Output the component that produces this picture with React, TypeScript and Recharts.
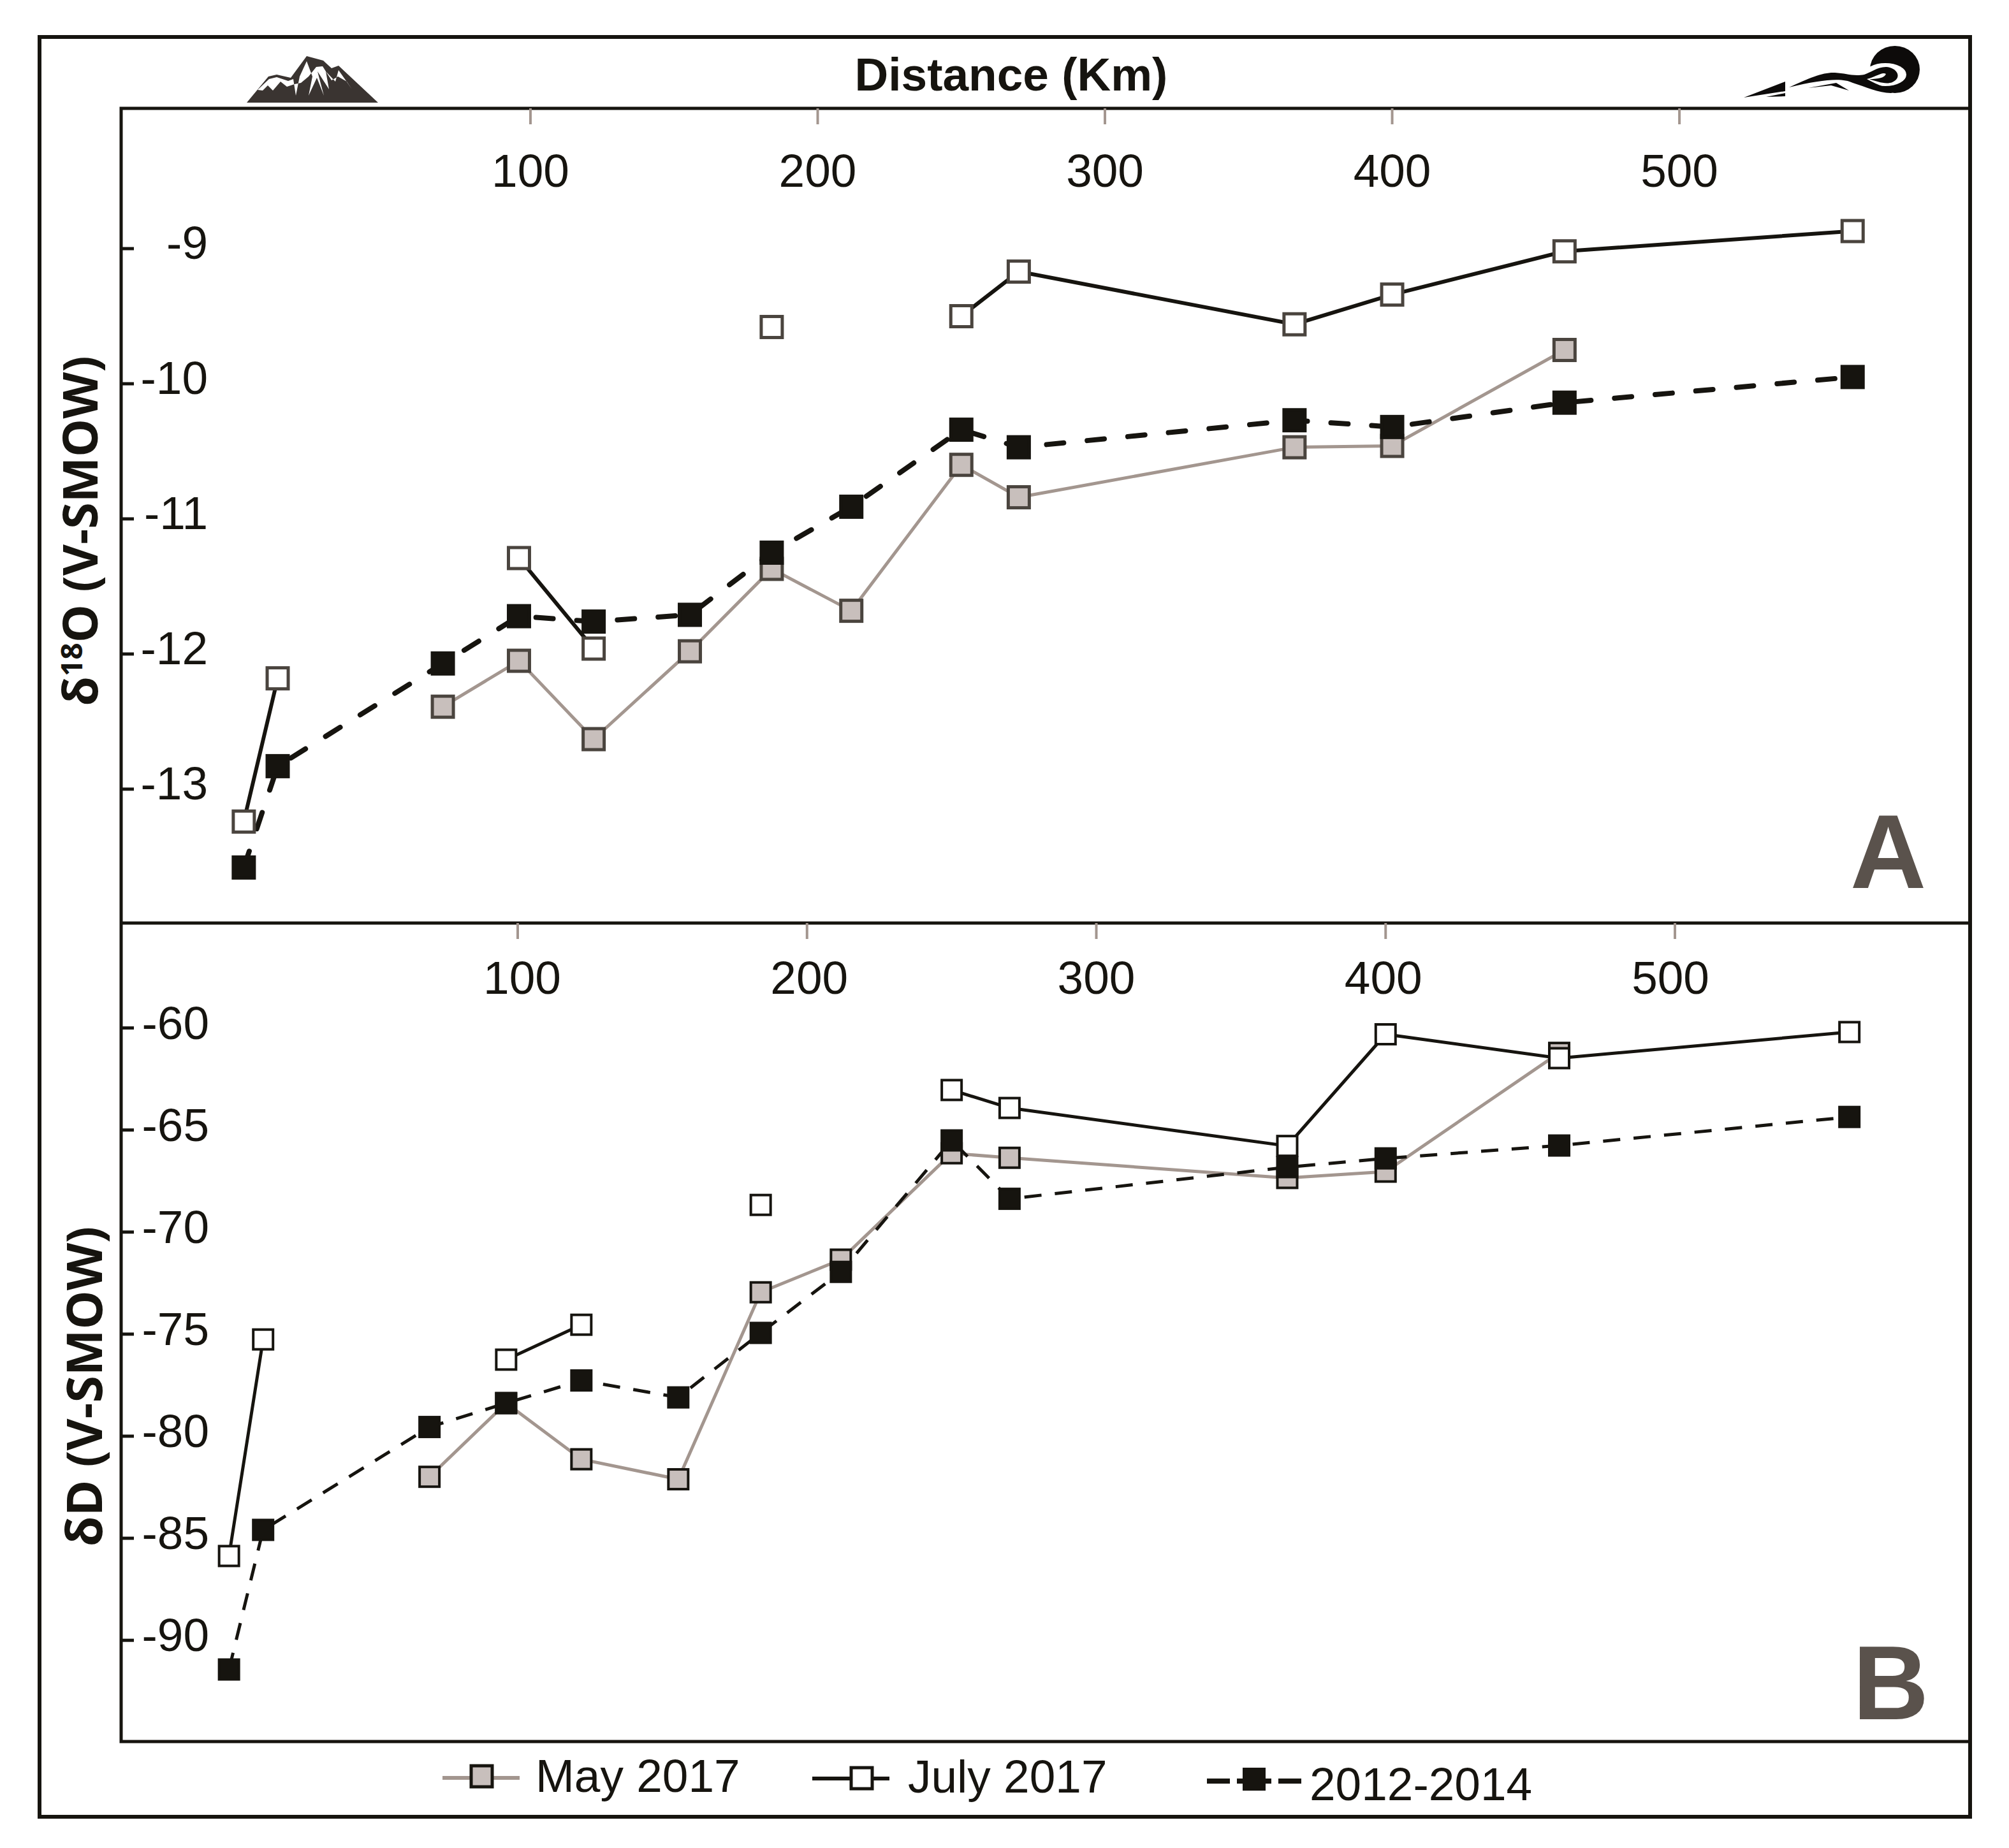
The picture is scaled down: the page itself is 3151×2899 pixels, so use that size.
import React from "react";
import { ComposedChart, Line, XAxis, YAxis } from "recharts";

const distanceKm = [0.2, 12, 69.5, 96, 122, 155.5, 184, 211.7, 250, 270, 366, 400, 460, 560.3];

const mayA = [null, null, -12.39, -12.05, -12.63, -11.98, -11.37, -11.68, -10.6, -10.84, -10.47, -10.46, -9.75, null];
const julyA = [-13.24, -12.18, null, -11.29, -11.96, null, -9.58, null, -9.5, -9.17, -9.56, -9.34, -9.02, -8.87];
const histA = [-13.58, -12.83, -12.07, -11.72, -11.76, -11.71, -11.25, -10.91, -10.34, -10.47, -10.27, -10.32, -10.14, -9.95];

const mayB = [null, null, -81.99, -78.38, -81.13, -82.11, -72.95, -71.35, -66.14, -66.36, -67.35, -67.04, -61.22, null];
const julyB = [-85.87, -75.26, null, -76.25, -74.54, null, -68.67, null, -63.04, -63.92, -65.78, -60.31, -61.48, -60.2];
const histB = [-91.43, -84.59, -79.55, -78.38, -77.27, -78.1, -74.94, -71.95, -65.51, -68.37, -66.82, -66.39, -65.76, -64.36];

const xTicks = [100, 200, 300, 400, 500];
const yTicksA = [-13, -12, -11, -10, -9];
const yTicksB = [-90, -85, -80, -75, -70, -65, -60];

const legendLabels = ["May 2017", "July 2017", "2012-2014"];

const INK = "#16140f";
const GREY = "#a3968f";
const MAY_FILL = "#c8bfbc";
const SANS = "'Liberation Sans', Arial, sans-serif";

const rows = (may: any[], july: any[], hist: any[]) =>
  distanceKm.map((km, i) => ({ km, may: may[i], july: july[i], hist: hist[i] }));

const square = (fill: string, size: number, stroke: string, sw: number) => (p: any) => {
  if (p.cy == null || p.value == null) return <g key={p.index} />;
  const s = size - sw;
  return <rect key={p.index} x={p.cx - s / 2} y={p.cy - s / 2} width={s} height={s} fill={fill} stroke={stroke} strokeWidth={sw} />;
};

type PanelProps = {
  top: number; height: number; data: any[]; xDomain: number[]; yDomain: number[]; yTicks: number[];
  labelY: number; yLabelX: number; yBaseline: number; xShift: number; size: number; mStroke: string; mw: number;
  dash: string; hw: number; cap: "round" | "butt"; jw: number;
};

function Panel(p: PanelProps) {
  return (
    <div style={{ position: "absolute", left: 190, top: p.top, width: 2900, height: p.height }}>
      <ComposedChart width={2900} height={p.height} data={p.data} margin={{ top: 0, right: 0, bottom: 0, left: 0 }}>
        <XAxis
          dataKey="km" type="number" orientation="top" mirror domain={p.xDomain} ticks={xTicks} interval={0}
          axisLine={false} tickSize={25} tickLine={{ stroke: GREY, strokeWidth: 4 }}
          tick={(t: any) => (
            <text x={t.x + (300 - t.payload.value) * p.xShift} y={p.labelY} textAnchor="middle" fontFamily={SANS} fontSize={73} fill={INK}>
              {t.payload.value}
            </text>
          )}
        />
        <YAxis
          type="number" orientation="left" mirror domain={p.yDomain} ticks={p.yTicks} interval={0}
          axisLine={false} tickSize={20} tickLine={{ stroke: INK, strokeWidth: 5 }}
          tick={(t: any) => (
            <text x={p.yLabelX} y={t.y + p.yBaseline} textAnchor="end" fontFamily={SANS} fontSize={73} fill={INK}>
              {t.payload.value}
            </text>
          )}
        />
        <Line dataKey="may" name={legendLabels[0]} stroke={GREY} strokeWidth={5} isAnimationActive={false}
          dot={square(MAY_FILL, p.size, p.mStroke, p.mw)} activeDot={false} />
        <Line dataKey="july" name={legendLabels[1]} stroke={INK} strokeWidth={p.jw} isAnimationActive={false}
          dot={square("#ffffff", p.size, p.mStroke, p.mw)} activeDot={false} />
        <Line dataKey="hist" name={legendLabels[2]} stroke={INK} strokeWidth={p.hw} strokeDasharray={p.dash} strokeLinecap={p.cap}
          isAnimationActive={false} dot={square(INK, p.size, INK, p.mw)} activeDot={false} />
      </ComposedChart>
    </div>
  );
}

function Overlay() {
  return (
    <svg width={3151} height={2899} style={{ position: "absolute", left: 0, top: 0 }}>
      <rect x={0} y={0} width={3151} height={2899} fill="#ffffff" />
      <rect x={62} y={58} width={3028} height={2792} fill="none" stroke={INK} strokeWidth={6} />
      <rect x={190} y={170} width={2900} height={2562} fill="none" stroke={INK} strokeWidth={5} />
      <line x1={190} x2={3090} y1={1448} y2={1448} stroke={INK} strokeWidth={5} />

      <text x={1586} y={142} textAnchor="middle" fontFamily={SANS} fontWeight={700} fontSize={73} fill={INK}>Distance (Km)</text>

      <text transform="translate(153 833) rotate(-90)" textAnchor="middle" fontFamily="'Open Sans', sans-serif" fontWeight={700} fontSize={75.5} fill={INK}>
        δ<tspan fontSize={46} dy={-24}>18</tspan><tspan dy={24}>O (V-SMOW)</tspan>
      </text>
      <text transform="translate(160 2175) rotate(-90)" textAnchor="middle" fontFamily="'Open Sans', sans-serif" fontWeight={700} fontSize={77} fill={INK}>δD (V-SMOW)</text>

      <text x={2902} y={1393} fontFamily={SANS} fontWeight={700} fontSize={165} fill="#5a524c">A</text>
      <text x={2906} y={2697} fontFamily={SANS} fontWeight={700} fontSize={165} fill="#5a524c">B</text>

      {/* mountain icon */}
      <path d="M387 161 L421 120 L434 117 L456 122 L481 88 L507 95 L520 107 L531 103 L593 161 Z" fill="#3a3431" />
      <path d="M404 141 L422 124 L434 121 L452 127 L460 124 L464 150 L470 120 L481 96 L490 120 L484 150 L497 122 L508 150 L498 112 L516 140 L511 112 L526 128 L531 110 L552 140 L544 128 L530 120 L520 126 L506 104 L496 105 L484 120 L472 130 L462 132 L450 136 L440 128 L428 142 L420 134 L412 142 Z" fill="#ffffff" />

      {/* river icon */}
      <ellipse cx={2972} cy={109} rx={39} ry={37} fill="#0d0b0a" />
      <ellipse cx={2957} cy={117} rx={33} ry={18} fill="#ffffff" />
      <path d="M2806 137 C2838 122 2860 113 2878 114 C2896 115 2906 120 2924 117 C2934 114 2944 105 2958 105 C2976 106 2984 122 2968 129 C2958 133 2944 128 2932 124 C2946 124 2956 122 2958 116 C2952 112 2940 122 2928 124 C2946 134 2962 140 2980 140 L2966 146 C2946 146 2926 136 2906 130 C2890 122 2860 124 2806 137 Z" fill="#0d0b0a" />
      <path d="M2735 153 L2800 128 L2800 143 Z M2770 152 L2800 146 L2800 151 Z" fill="#0d0b0a" />
      <path d="M2836 138 L2880 130 L2900 142 L2872 134 Z" fill="#0d0b0a" />

      {/* legend */}
      <line x1={694} x2={815} y1={2789} y2={2789} stroke={GREY} strokeWidth={6} />
      <rect x={739} y={2770} width={33} height={33} fill={MAY_FILL} stroke={INK} strokeWidth={5} />
      <text x={840} y={2811} fontFamily={SANS} fontSize={73} fill={INK}>{legendLabels[0]}</text>

      <line x1={1274} x2={1395} y1={2790} y2={2790} stroke={INK} strokeWidth={6} />
      <rect x={1335} y={2773} width={33} height={33} fill="#ffffff" stroke={INK} strokeWidth={5} />
      <text x={1424} y={2812} fontFamily={SANS} fontSize={73} fill={INK}>{legendLabels[1]}</text>

      <line x1={1893} x2={1929} y1={2794} y2={2794} stroke={INK} strokeWidth={8} />
      <line x1={2005} x2={2041} y1={2794} y2={2794} stroke={INK} strokeWidth={8} />
      <line x1={1940} x2={1994} y1={2794} y2={2794} stroke={INK} strokeWidth={8} />
      <rect x={1949} y={2773} width={36} height={36} fill={INK} />
      <text x={2054} y={2824} fontFamily={SANS} fontSize={73} fill={INK}>{legendLabels[2]}</text>
    </svg>
  );
}

export default function App() {
  return (
    <div style={{ position: "absolute", left: 0, top: 0, width: 3151, height: 2899, background: "#fff", overflow: "hidden" }}>
      <Overlay />
      <Panel top={170} height={1278} data={rows(mayA, julyA, histA)} xDomain={[-42.5, 601.2]} yDomain={[-13.991, -7.962]} yTicks={yTicksA}
        labelY={123} yLabelX={136} yBaseline={16} xShift={0} size={38} mStroke="#4a443e" mw={5} dash="27 37" hw={8} cap="round" jw={6} />
      <Panel top={1448} height={1284} data={rows(mayB, julyB, histB)} xDomain={[-37.08, 602.03]} yDomain={[-94.96, -54.86]} yTicks={yTicksB}
        labelY={111} yLabelX={138} yBaseline={17} xShift={0.035} size={35} mStroke={INK} mw={4} dash="27 21" hw={5} cap="butt" jw={5} />
    </div>
  );
}
